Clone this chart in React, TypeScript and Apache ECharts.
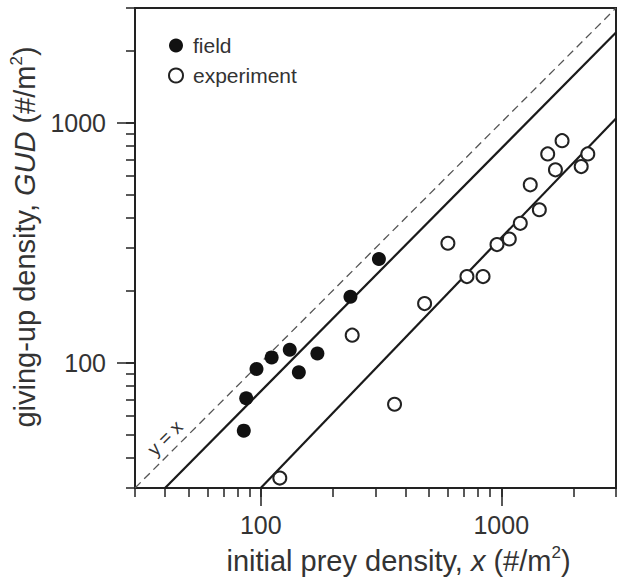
import React, { useEffect, useRef } from "react";
import * as echarts from "echarts";

// ---- data ----
const fieldX = [310, 236, 111, 132, 172, 96, 144, 87, 85];
const fieldY = [270, 188, 105, 113, 109, 94, 91, 71, 52];

const expX = [240, 360, 120, 600, 480, 720, 840, 960, 1080, 1200, 1320, 1440, 1560, 1680, 1790, 2150, 2290];
const expY = [130, 67, 33, 314, 176, 228, 228, 310, 327, 380, 550, 433, 740, 635, 840, 655, 740];

const identityLine = [[30, 30], [3000, 3000]];
const fieldFit = [[40, 30], [3000, 2370]];
const expFit = [[100, 30], [3000, 1040]];

const axisMin = 30;
const axisMax = 3000;
const majorTicks = [100, 1000];
const minorTicks = [30, 40, 50, 60, 70, 80, 90, 100, 200, 300, 400, 500, 600, 700, 800, 900, 1000, 2000, 3000];

const FONT = "'Liberation Sans', Arial, Helvetica, sans-serif";
const INK = "#222";
const TXT = "#333";

function zip(a: number[], b: number[]) {
  return a.map((v, i) => [v, b[i]]);
}

function richName(size: number) {
  return {
    fontFamily: FONT,
    fontSize: size,
    color: TXT,
    rich: {
      a: { fontFamily: FONT, fontSize: size, color: TXT, lineHeight: size + 4 },
      i: { fontFamily: FONT, fontSize: size, color: TXT, fontStyle: "italic", lineHeight: size + 4 },
      s: { fontFamily: FONT, fontSize: Math.round(size * 0.6), color: TXT, verticalAlign: "top", lineHeight: Math.round(size * 0.6) },
    },
  };
}

function baseAxis(extra: any) {
  return {
    type: "log",
    logBase: 10,
    min: axisMin,
    max: axisMax,
    splitLine: { show: false },
    minorTick: { show: false },
    minorSplitLine: { show: false },
    ...extra,
  };
}

const plainNumber = (v: number) => String(Math.round(v));

export default function App() {
  const ref = useRef<HTMLDivElement>(null);

  useEffect(() => {
    if (!ref.current) return;
    const chart = echarts.init(ref.current, undefined, { renderer: "svg" });

    const tickStyle = { color: INK, width: 1.5 };

    const option: any = {
      animation: false,
      backgroundColor: "#fff",
      grid: {
        left: 135,
        top: 8,
        width: 481,
        height: 481,
        show: true,
        borderColor: INK,
        borderWidth: 2,
        backgroundColor: "transparent",
      },
      legend: {
        orient: "vertical",
        left: 163,
        top: 30,
        itemWidth: 24,
        itemHeight: 14,
        itemGap: 9,
        selectedMode: false,
        data: ["field", "experiment"],
        textStyle: { fontFamily: FONT, fontSize: 21, color: TXT },
      },
      xAxis: [
        baseAxis({
          position: "bottom",
          axisLine: { show: true, lineStyle: { color: INK, width: 2 } },
          axisTick: { show: true, inside: false, length: 9, customValues: minorTicks, lineStyle: tickStyle },
          axisLabel: { show: true, customValues: majorTicks, formatter: plainNumber, margin: 24, fontFamily: FONT, fontSize: 25, color: TXT },
          name: "{a|initial prey density, }{i|x}{a| (#/m}{s|2}{a|)}",
          nameLocation: "middle",
          nameGap: 56,
          nameTextStyle: { ...richName(29), padding: [0, 0, 0, 46] },
        }),
        baseAxis({
          position: "bottom",
          axisLine: { show: false },
          axisTick: { show: true, inside: false, length: 18, customValues: majorTicks, lineStyle: tickStyle },
          axisLabel: { show: false },
        }),
      ],
      yAxis: [
        baseAxis({
          position: "left",
          axisLine: { show: true, lineStyle: { color: INK, width: 2 } },
          axisTick: { show: true, inside: false, length: 9, customValues: minorTicks, lineStyle: tickStyle },
          axisLabel: { show: true, customValues: majorTicks, formatter: plainNumber, margin: 29, fontFamily: FONT, fontSize: 25, color: TXT },
          name: "{a|giving-up density, }{i|GUD}{a| (#/m}{s|2}{a|)}",
          nameLocation: "middle",
          nameGap: 80,
          nameTextStyle: { ...richName(29), padding: [0, 0, 0, 22] },
        }),
        baseAxis({
          position: "left",
          axisLine: { show: false },
          axisTick: { show: true, inside: false, length: 18, customValues: majorTicks, lineStyle: tickStyle },
          axisLabel: { show: false },
        }),
      ],
      graphic: [
        {
          type: "text",
          x: 165,
          y: 438,
          rotation: Math.PI / 4,
          z: 10,
          style: { text: "y = x", fontFamily: FONT, fontSize: 19, fill: TXT, align: "center", verticalAlign: "middle" },
        },
      ],
      series: [
        {
          type: "line",
          name: "y=x",
          data: identityLine,
          symbol: "none",
          silent: true,
          lineStyle: { color: "#555", width: 1.3, type: [8, 5] },
          z: 1,
        },
        {
          type: "line",
          name: "field fit",
          data: fieldFit,
          symbol: "none",
          silent: true,
          lineStyle: { color: "#1a1a1a", width: 2.2 },
          z: 1,
        },
        {
          type: "line",
          name: "experiment fit",
          data: expFit,
          symbol: "none",
          silent: true,
          lineStyle: { color: "#1a1a1a", width: 2.2 },
          z: 1,
        },
        {
          type: "scatter",
          name: "field",
          data: zip(fieldX, fieldY),
          symbol: "circle",
          symbolSize: 14,
          itemStyle: { color: "#111", opacity: 1 },
          z: 3,
        },
        {
          type: "scatter",
          name: "experiment",
          data: zip(expX, expY),
          symbol: "circle",
          symbolSize: 13,
          itemStyle: { color: "#fff", borderColor: "#222", borderWidth: 2, opacity: 1 },
          z: 3,
        },
      ],
    };

    chart.setOption(option);
    return () => {
      chart.dispose();
    };
  }, []);

  return (
    <div
      ref={ref}
      style={{ position: "fixed", left: 0, top: 0, width: 618, height: 580, background: "#fff" }}
    />
  );
}
